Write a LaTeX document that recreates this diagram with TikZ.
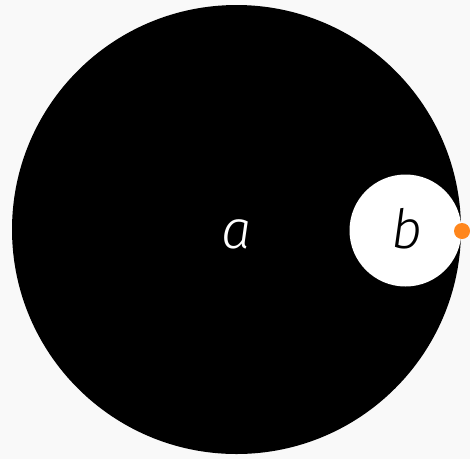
\documentclass[tikz,border=0pt]{standalone}
\usepackage{fontspec}
\setmainfont{Fira Sans Light}
\usetikzlibrary{positioning}
\definecolor{pageGray}{RGB}{249,249,249}
\definecolor{dotOrange}{RGB}{255,134,28}

\begin{document}
\begin{tikzpicture}[x=1pt,y=-1pt,
    disc/.style={circle,inner sep=0pt,draw=none},
    lbl/.style={inner sep=0pt,font=\fontsize{54}{54}\selectfont\itshape}]

    \fill[pageGray] (0,0) rectangle (470,459);
    \useasboundingbox (0,0) rectangle (470,459);

    \node[disc,fill=black,minimum size=449pt] (big) at (236.5,229.5) {};
    \node[disc,fill=white,minimum size=112pt] (small) at (405.5,230.5) {};
    \node[disc,fill=dotOrange,minimum size=16pt] (dot) at (462,231) {};

    \node[lbl,text=white] (la) at (236.5,234) {a};
    \node[lbl,text=black] (lb) at (406.5,229) {b};
\end{tikzpicture}
\end{document}
